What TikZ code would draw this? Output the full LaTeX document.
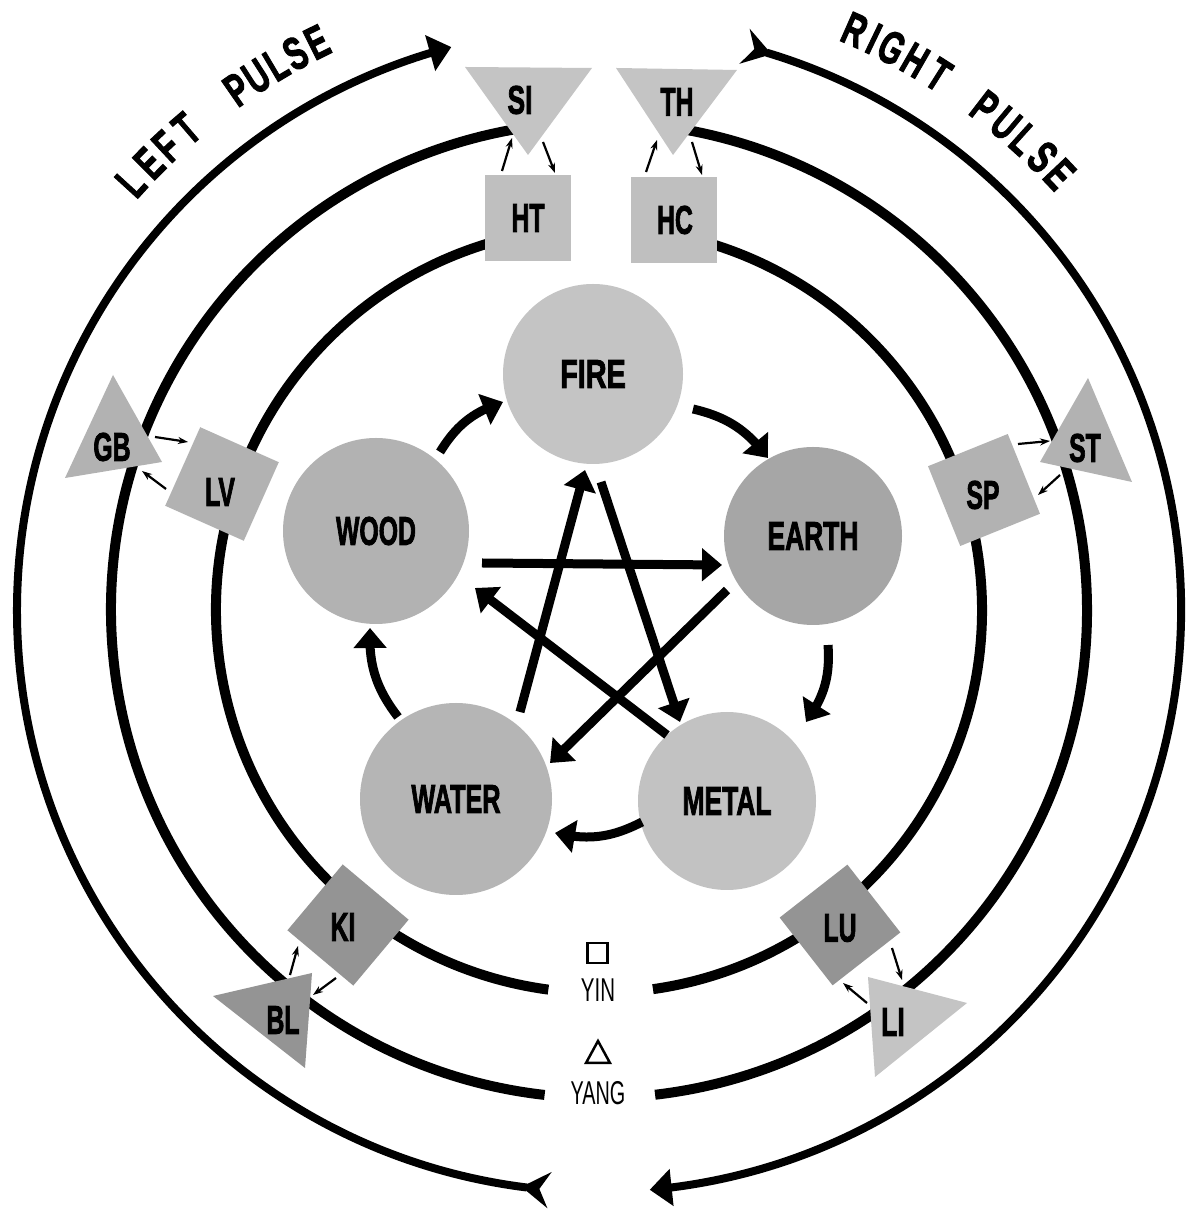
\documentclass[tikz,border=0pt]{standalone}
\usepackage{fontspec}
\usepackage{graphicx}
\setmainfont{Liberation Sans}
\newfontfamily\heavy{Liberation Sans}[BoldFeatures={FakeBold=2.5}]
\usetikzlibrary{arrows.meta,bending}
\newcommand{\cnd}[2][0.70]{\scalebox{#1}[1]{#2}}
\definecolor{gFire}{gray}{0.77}
\definecolor{gWood}{gray}{0.70}
\definecolor{gEarth}{gray}{0.65}
\definecolor{gWater}{gray}{0.71}
\definecolor{gMetal}{gray}{0.76}
\definecolor{gSqA}{gray}{0.75}
\definecolor{gSqB}{gray}{0.70}
\definecolor{gSqC}{gray}{0.58}
\definecolor{gTrA}{gray}{0.77}
\definecolor{gTrB}{gray}{0.70}
\definecolor{gTrC}{gray}{0.58}
\tikzset{
  ring/.style={line width=10pt, black},
  pulse/.style={line width=8pt, black},
  pulsetips/.style={{Stealth[reversed,length=28pt,width=36pt,inset=10pt]}-{Triangle[length=22pt,width=36pt]}},
  elem/.style={circle, inner sep=0pt, outer sep=0pt, font=\fontsize{40}{44}\heavy\bfseries},
  sqbox/.style={rectangle, minimum size=86pt, inner sep=0pt, outer sep=0pt},
  lab/.style={inner sep=0pt, outer sep=0pt, font=\fontsize{40}{44}\heavy\bfseries},
  pl/.style={inner sep=0pt, outer sep=0pt, font=\fontsize{46}{48}\heavy\bfseries},
  yy/.style={inner sep=0pt, outer sep=0pt, font=\fontsize{33}{35}\selectfont},
  small/.style={line width=2.2pt, -{Stealth[length=10pt,width=7pt]}},
  big/.style={line width=9pt, -{Triangle[length=20pt,width=32pt]}},
}
\begin{document}
\begin{tikzpicture}[x=1pt,y=1pt]
\useasboundingbox (0,0) rectangle (1188,1213);
\fill[white] (0,0) rectangle (1188,1213);
\coordinate (C) at (599,603);

% yin ring
\draw[ring] ([shift={(103.4:383pt)}]C) arc[start angle=103.4,end angle=262.4,radius=383pt];
\draw[ring] ([shift={(-81.9:383pt)}]C) arc[start angle=-81.9,end angle=76.3,radius=383pt];
% yang ring
\draw[ring] ([shift={(98.4:488pt)}]C) arc[start angle=98.4,end angle=263.6,radius=488pt];
\draw[ring] ([shift={(-83.4:488pt)}]C) arc[start angle=-83.4,end angle=81.3,radius=488pt];
% pulse arcs
\draw[pulse,pulsetips] ([shift={(265.1:582pt)}]C) arc[start angle=265.1,end angle=104.7,radius=582pt];
\draw[pulse,pulsetips] ([shift={(75.5:582pt)}]C) arc[start angle=75.5,end angle=-85,radius=582pt];

% pulse labels
\foreach \ch/\a [count=\i] in {L/137.6,E/135.2,F/133.0,T/130.6,P/124.8,U/122.7,L/120.6,S/118.6,E/116.4}
  \node[pl, rotate=\a-90] (lp\i) at ([shift={(\a:634pt)}]C) {\cnd[0.66]{\ch}};
\foreach \ch/\a [count=\i] in {R/66.2,I/64.3,G/62.5,H/60.1,T/57.6,P/52.5,U/50.1,L/47.9,S/45.6,E/43.4}
  \node[pl, rotate=\a-90] (rp\i) at ([shift={(\a:634pt)}]C) {\cnd[0.66]{\ch}};

% yin squares
\node[sqbox, fill=gSqA] (HTb) at (528,995) {};
\node[sqbox, fill=gSqA] (HCb) at (674,993) {};
\node[sqbox, fill=gSqB, rotate=66] (LVb) at (222,729) {};
\node[sqbox, fill=gSqB, rotate=22] (SPb) at (984,723) {};
\node[sqbox, fill=gSqC, rotate=50] (KIb) at (348,288) {};
\node[sqbox, fill=gSqC, rotate=38] (LUb) at (840,288) {};

% yang triangles
\fill[gTrA] (465,1146) -- (592,1145) -- (528,1058) -- cycle;
\fill[gTrA] (616,1145) -- (737,1143) -- (673,1058) -- cycle;
\fill[gTrB] (113,838) -- (162,751) -- (65,735) -- cycle;
\fill[gTrB] (1088,835) -- (1132,731) -- (1040,751) -- cycle;
\fill[gTrC] (213,217) -- (312,240) -- (305,145) -- cycle;
\fill[gTrA] (868,236) -- (967,210) -- (875,136) -- cycle;

% labels
\node[lab] (HT) at (528,995) {\cnd[0.62]{HT}};
\node[lab] (HC) at (675,993) {\cnd[0.62]{HC}};
\node[lab] (LV) at (220,721) {\cnd[0.62]{LV}};
\node[lab] (SP) at (983,718) {\cnd[0.62]{SP}};
\node[lab] (KI) at (343,286) {\cnd[0.62]{KI}};
\node[lab] (LU) at (840,285) {\cnd[0.62]{LU}};
\node[lab] (SI) at (520,1113) {\cnd[0.66]{SI}};
\node[lab] (TH) at (677,1111) {\cnd[0.62]{TH}};
\node[lab] (GB) at (112,766) {\cnd[0.62]{GB}};
\node[lab] (ST) at (1085,765) {\cnd[0.62]{ST}};
\node[lab] (BL) at (283,193) {\cnd[0.62]{BL}};
\node[lab] (LI) at (893,191) {\cnd[0.66]{LI}};

% small arrows
\draw[small] ([shift={(-26,47)}]HT.center) -- ([shift={(-8,-38)}]SI.center);
\draw[small] ([shift={(23,-42)}]SI.center) -- ([shift={(27,45)}]HT.center);
\draw[small] ([shift={(-29,48)}]HC.center) -- ([shift={(-20,-38)}]TH.center);
\draw[small] ([shift={(15,-40)}]TH.center) -- ([shift={(27,45)}]HC.center);
\draw[small] ([shift={(43,10)}]GB.center) -- ([shift={(-32,50)}]LV.center);
\draw[small] ([shift={(-54,3)}]LV.center) -- ([shift={(30,-24)}]GB.center);
\draw[small] ([shift={(35,51)}]SP.center) -- ([shift={(-35,7)}]ST.center);
\draw[small] ([shift={(-25,-27)}]ST.center) -- ([shift={(55,0)}]SP.center);
\draw[small] ([shift={(7,45)}]BL.center) -- ([shift={(-45,-19)}]KI.center);
\draw[small] ([shift={(-7,-51)}]KI.center) -- ([shift={(30,25)}]BL.center);
\draw[small] ([shift={(52,-20)}]LU.center) -- ([shift={(9,42)}]LI.center);
\draw[small] ([shift={(-26,19)}]LI.center) -- ([shift={(3,-55)}]LU.center);

% elements
\node[elem, minimum size=180pt, fill=gFire] (FIRE) at (593,839) {\cnd[0.72]{FIRE}};
\node[elem, minimum size=186pt, fill=gWood] (WOOD) at (376,682) {\cnd[0.62]{WOOD}};
\node[elem, minimum size=178pt, fill=gEarth] (EARTH) at (813,677) {\cnd[0.66]{EARTH}};
\node[elem, minimum size=192pt, fill=gWater] (WATER) at (456,414) {\cnd[0.63]{WATER}};
\node[elem, minimum size=178pt, fill=gMetal] (METAL) at (727,412) {\cnd[0.66]{METAL}};

% generating cycle
\draw[big] ([shift={(64,79)}]WOOD.center) to[bend left=20] ([shift={(-90,-28)}]FIRE.center);
\draw[big] ([shift={(100,-35)}]FIRE.center) to[bend left=20] ([shift={(-45,78)}]EARTH.center);
\draw[big] ([shift={(15,-109)}]EARTH.center) to[bend left=20] ([shift={(79,79)}]METAL.center);
\draw[big] ([shift={(-85,-21)}]METAL.center) to[bend left=20] ([shift={(99,-34)}]WATER.center);
\draw[big] ([shift={(-58,82)}]WATER.center) to[bend left=20] ([shift={(-6,-97)}]WOOD.center);
% controlling cycle
\draw[big] ([shift={(106,-32)}]WOOD.center) -- ([shift={(-91,-29)}]EARTH.center);
\draw[big] ([shift={(-86,-54)}]EARTH.center) -- ([shift={(94,36)}]WATER.center);
\draw[big] ([shift={(64,87)}]WATER.center) -- ([shift={(-8,-96)}]FIRE.center);
\draw[big] ([shift={(8,-108)}]FIRE.center) -- ([shift={(-47,79)}]METAL.center);
\draw[big] ([shift={(-60,66)}]METAL.center) -- ([shift={(99,-57)}]WOOD.center);

% yin / yang legend
\node[draw, line width=2.5pt, minimum size=20pt, inner sep=0pt] (yinsym) at (597.5,260) {};
\node[yy] (YIN) at (598,223) {\cnd[0.62]{YIN}};
\draw[line width=2.5pt, line join=miter] (586,150) -- (610,150) -- (598,172) -- cycle;
\node[yy] (YANG) at (598,120) {\cnd[0.60]{YANG}};
\end{tikzpicture}
\end{document}
